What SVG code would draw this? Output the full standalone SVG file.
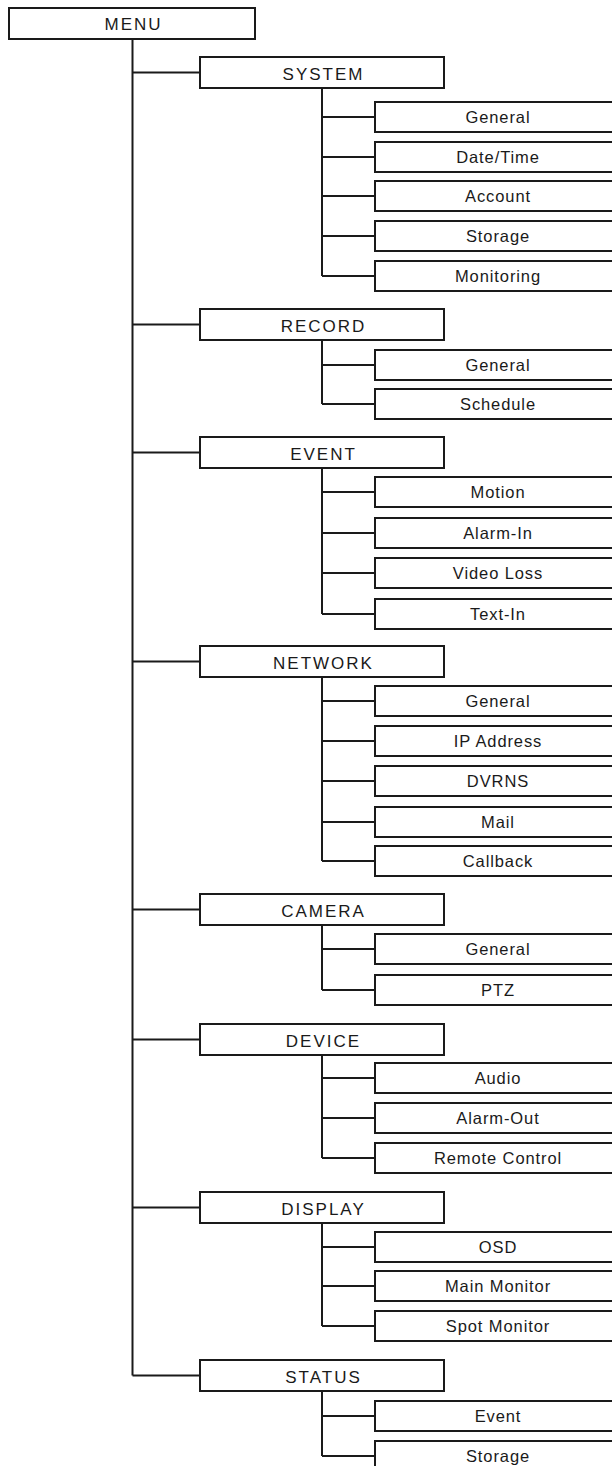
<svg xmlns="http://www.w3.org/2000/svg" width="612" height="1466" viewBox="0 0 612 1466">
<style>
rect{fill:#fff;stroke:#1a1a1a;stroke-width:2}
.c path{fill:none;stroke:#1a1a1a;stroke-width:2}
text{font-family:"Liberation Sans",Arial,sans-serif;fill:#1a1a1a;text-anchor:middle}
.p{font-size:17px;letter-spacing:2px}
.k{font-size:16.5px;letter-spacing:0.9px}
</style>
<rect width="612" height="1466" style="fill:#fff;stroke:none"/>
<g class="c" id="connectors">
<path d="M132.5 39V1375.5M132.5 72.5H200M132.5 324.5H200M132.5 452.5H200M132.5 661.5H200M132.5 909.5H200M132.5 1039.5H200M132.5 1207.5H200M132.5 1375.5H200"/>
<path d="M322 88V276M322 117H375M322 157H375M322 196H375M322 236H375M322 276H375"/>
<path d="M322 340V404M322 365H375M322 404H375"/>
<path d="M322 468V614M322 492H375M322 533H375M322 573H375M322 614H375"/>
<path d="M322 677V861M322 701H375M322 741H375M322 781H375M322 822H375M322 861H375"/>
<path d="M322 925V990M322 949H375M322 990H375"/>
<path d="M322 1055V1158M322 1078H375M322 1118H375M322 1158H375"/>
<path d="M322 1223V1326M322 1247H375M322 1286H375M322 1326H375"/>
<path d="M322 1391V1456M322 1416H375M322 1456H375"/>
</g>
<g id="menu"><rect x="9" y="8" width="246" height="31"/><text class="p" x="133.5" y="30">MENU</text></g>
<g id="system"><rect x="200" y="57" width="244" height="31"/><text class="p" x="323.5" y="80">SYSTEM</text></g>
<g id="system-general"><rect x="375" y="102" width="245" height="30"/><text class="k" x="498" y="123">General</text></g>
<g id="system-datetime"><rect x="375" y="142" width="245" height="30"/><text class="k" x="498" y="163">Date/Time</text></g>
<g id="system-account"><rect x="375" y="181" width="245" height="30"/><text class="k" x="498" y="202">Account</text></g>
<g id="system-storage"><rect x="375" y="221" width="245" height="30"/><text class="k" x="498" y="242">Storage</text></g>
<g id="system-monitoring"><rect x="375" y="261" width="245" height="30"/><text class="k" x="498" y="282">Monitoring</text></g>
<g id="record"><rect x="200" y="309" width="244" height="31"/><text class="p" x="323.5" y="332">RECORD</text></g>
<g id="record-general"><rect x="375" y="350" width="245" height="30"/><text class="k" x="498" y="371">General</text></g>
<g id="record-schedule"><rect x="375" y="389" width="245" height="30"/><text class="k" x="498" y="410">Schedule</text></g>
<g id="event"><rect x="200" y="437" width="244" height="31"/><text class="p" x="323.5" y="460">EVENT</text></g>
<g id="event-motion"><rect x="375" y="477" width="245" height="30"/><text class="k" x="498" y="498">Motion</text></g>
<g id="event-alarmin"><rect x="375" y="518" width="245" height="30"/><text class="k" x="498" y="539">Alarm-In</text></g>
<g id="event-videoloss"><rect x="375" y="558" width="245" height="30"/><text class="k" x="498" y="579">Video Loss</text></g>
<g id="event-textin"><rect x="375" y="599" width="245" height="30"/><text class="k" x="498" y="620">Text-In</text></g>
<g id="network"><rect x="200" y="646" width="244" height="31"/><text class="p" x="323.5" y="669">NETWORK</text></g>
<g id="network-general"><rect x="375" y="686" width="245" height="30"/><text class="k" x="498" y="707">General</text></g>
<g id="network-ip"><rect x="375" y="726" width="245" height="30"/><text class="k" x="498" y="747">IP Address</text></g>
<g id="network-dvrns"><rect x="375" y="766" width="245" height="30"/><text class="k" x="498" y="787">DVRNS</text></g>
<g id="network-mail"><rect x="375" y="807" width="245" height="30"/><text class="k" x="498" y="828">Mail</text></g>
<g id="network-callback"><rect x="375" y="846" width="245" height="30"/><text class="k" x="498" y="867">Callback</text></g>
<g id="camera"><rect x="200" y="894" width="244" height="31"/><text class="p" x="323.5" y="917">CAMERA</text></g>
<g id="camera-general"><rect x="375" y="934" width="245" height="30"/><text class="k" x="498" y="955">General</text></g>
<g id="camera-ptz"><rect x="375" y="975" width="245" height="30"/><text class="k" x="498" y="996">PTZ</text></g>
<g id="device"><rect x="200" y="1024" width="244" height="31"/><text class="p" x="323.5" y="1047">DEVICE</text></g>
<g id="device-audio"><rect x="375" y="1063" width="245" height="30"/><text class="k" x="498" y="1084">Audio</text></g>
<g id="device-alarmout"><rect x="375" y="1103" width="245" height="30"/><text class="k" x="498" y="1124">Alarm-Out</text></g>
<g id="device-remote"><rect x="375" y="1143" width="245" height="30"/><text class="k" x="498" y="1164">Remote Control</text></g>
<g id="display"><rect x="200" y="1192" width="244" height="31"/><text class="p" x="323.5" y="1215">DISPLAY</text></g>
<g id="display-osd"><rect x="375" y="1232" width="245" height="30"/><text class="k" x="498" y="1253">OSD</text></g>
<g id="display-main"><rect x="375" y="1271" width="245" height="30"/><text class="k" x="498" y="1292">Main Monitor</text></g>
<g id="display-spot"><rect x="375" y="1311" width="245" height="30"/><text class="k" x="498" y="1332">Spot Monitor</text></g>
<g id="status"><rect x="200" y="1360" width="244" height="31"/><text class="p" x="323.5" y="1383">STATUS</text></g>
<g id="status-event"><rect x="375" y="1401" width="245" height="30"/><text class="k" x="498" y="1422">Event</text></g>
<g id="status-storage"><rect x="375" y="1441" width="245" height="30"/><text class="k" x="498" y="1462">Storage</text></g>
</svg>
